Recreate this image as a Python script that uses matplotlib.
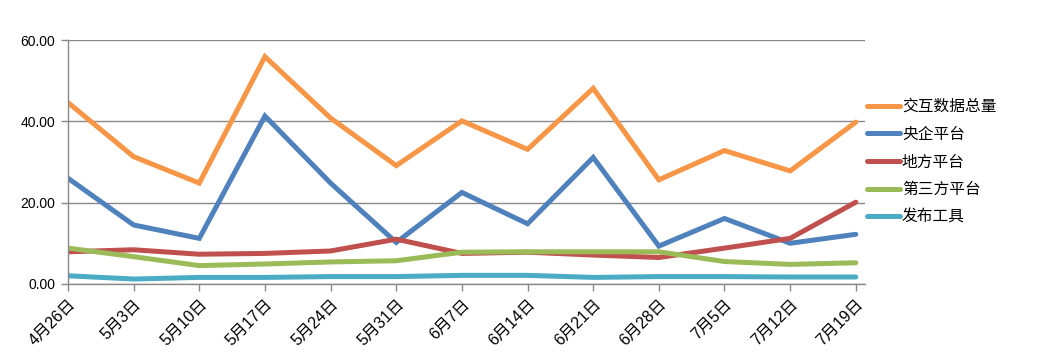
import matplotlib
matplotlib.use("Agg")
import matplotlib.pyplot as plt

plt.rcParams['font.family'] = ['Liberation Sans', 'Noto Sans CJK SC', 'DejaVu Sans']

dates = ["4月26日", "5月3日", "5月10日", "5月17日", "5月24日", "5月31日", "6月7日",
         "6月14日", "6月21日", "6月28日", "7月5日", "7月12日", "7月19日"]
total = [44.6, 31.3, 24.8, 55.9, 40.8, 29.1, 40.1, 33.1, 48.1, 25.6, 32.8, 27.8, 39.8]
central = [26.0, 14.5, 11.2, 41.3, 24.8, 10.2, 22.5, 14.8, 31.1, 9.3, 16.1, 10.0, 12.2]
local = [7.9, 8.4, 7.3, 7.5, 8.1, 11.0, 7.5, 7.8, 7.1, 6.5, 8.8, 11.2, 20.1]
third = [8.8, 6.7, 4.5, 4.9, 5.4, 5.7, 7.8, 7.9, 7.9, 7.9, 5.5, 4.8, 5.2]
tools = [2.0, 1.2, 1.6, 1.6, 1.8, 1.8, 2.1, 2.1, 1.6, 1.8, 1.8, 1.7, 1.7]

series = [
    ("交互数据总量", total, "#F79646"),
    ("央企平台", central, "#4F81BD"),
    ("地方平台", local, "#C0504D"),
    ("第三方平台", third, "#9BBB59"),
    ("发布工具", tools, "#4BACC6"),
]

fig = plt.figure(figsize=(10.59, 3.54), dpi=100)
ax = fig.add_axes([0.0642, 0.198, 0.7526, 0.689])

x = list(range(len(dates)))
for name, vals, col in series:
    ax.plot(x, vals, color=col, lw=3.6, label=name, solid_capstyle='round',
            solid_joinstyle='miter')

ax.set_ylim(0, 60)
ax.set_xlim(0, 12.14)
ax.set_yticks([0, 20, 40, 60])
ax.set_yticklabels(["0.00", "20.00", "40.00", "60.00"], fontsize=10)
ax.set_xticks(x)
ax.set_xticklabels(dates, rotation=45, ha='right', rotation_mode='anchor', fontsize=11.5)
ax.yaxis.grid(True, color='#888888', lw=1)
ax.set_axisbelow(True)
for s in ['top', 'right']:
    ax.spines[s].set_visible(False)
for s in ['left', 'bottom']:
    ax.spines[s].set_color('#888888')
    ax.spines[s].set_linewidth(1)
ax.tick_params(axis='both', color='#888888', length=5, width=1)
ax.tick_params(axis='y', pad=4)
ax.tick_params(axis='x', pad=4)

leg = ax.legend(loc='center left', bbox_to_anchor=(1.003, 0.5), frameon=False,
                handlelength=2.1, handletextpad=0.1, labelspacing=0.68, borderpad=0,
                borderaxespad=0,
                prop={'family': ['Noto Sans CJK SC'], 'size': 11.3})

fig.savefig("out.png", dpi=100)
